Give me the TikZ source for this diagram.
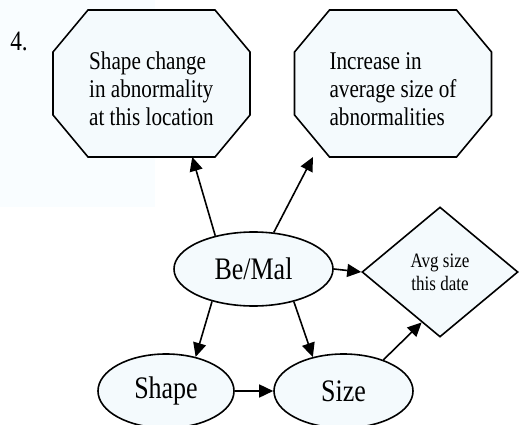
\documentclass[tikz,border=0pt]{standalone}
\usepackage{fontspec}
\setmainfont{Liberation Serif}[FakeStretch=0.83]
\usetikzlibrary{shapes.geometric,arrows.meta,calc,backgrounds}
\definecolor{nodefill}{RGB}{244,250,253}
\definecolor{panetint}{RGB}{249,253,255}
\newcommand{\firstline}{\rule{0pt}{28pt}}
\begin{document}
\begin{tikzpicture}[x=1pt,y=-1pt,
  box/.style={draw, line width=1.6pt, fill=nodefill, inner sep=0pt},
  octo/.style={rectangle, inner sep=0pt, outer sep=0pt, minimum width=197pt,
    minimum height=147pt, align=left, font=\fontsize{25.5}{28}\selectfont},
  octline/.style={draw, line width=1.6pt, fill=nodefill, line join=miter},
  oval/.style={box, ellipse, minimum height=74pt, font=\fontsize{31.3}{34}\selectfont},
  rhomb/.style={box, diamond, minimum width=156pt, minimum height=130pt,
    align=center, font=\fontsize{20.5}{23}\selectfont},
  arr/.style={line width=1.6pt, -{Triangle[length=14pt,width=13pt]}}]
\useasboundingbox (0,0) rectangle (519,425);
\clip (0,0) rectangle (519,425);

\node[font=\fontsize{28}{30}\selectfont, inner sep=0pt] (num) at (19,41) {4.};

\node[octo] (octL) at (151.5,83.5) {\firstline Shape change\\in abnormality\\at this location};
\node[octo] (octR) at (393,83.5) {\firstline Increase in\\average size of\\abnormalities};

% octagon outlines behind the two text boxes, plus the tinted pane
\begin{scope}[on background layer]
  \fill[panetint] (0,0) rectangle (155,207);
  \foreach \n in {octL,octR}
    \path[octline] ($(\n.north west)+(35,0)$) -- ($(\n.north east)+(-35,0)$)
      -- ($(\n.north east)+(0,42)$) -- ($(\n.south east)+(0,-42)$)
      -- ($(\n.south east)+(-35,0)$) -- ($(\n.south west)+(35,0)$)
      -- ($(\n.south west)+(0,-42)$) -- ($(\n.north west)+(0,42)$) -- cycle;
\end{scope}

\node[oval, minimum width=159pt] (bemal) at (253.5,269) {Be/Mal};
\node[oval, minimum width=136pt] (shapeN) at (166,391) {Shape};
\node[oval, minimum width=139pt] (sizeN) at (343.5,391) {Size};
\node[rhomb] (avg) at (440,272) {Avg size\\this date};

\draw[arr] (bemal.139) -- (octL.299);
\draw[arr] (bemal.61.5) -- ($(octR.south)+(-80,0)$);
\draw[arr] (bemal.east) -- (avg.west);
\draw[arr] (bemal.218) -- (shapeN.49);
\draw[arr] (bemal.321) -- (sizeN.132.6);
\draw[arr] (shapeN.east) -- (sizeN.west);
\draw[arr] (sizeN.38.7) -- (avg.250);
\end{tikzpicture}
\end{document}
